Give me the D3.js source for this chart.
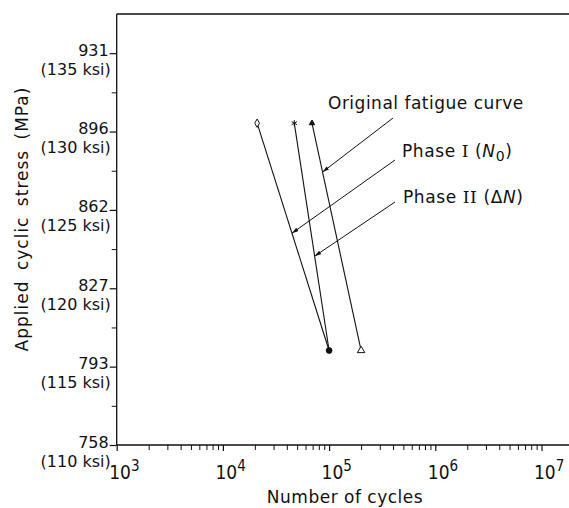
<!DOCTYPE html>
<html>
<head>
<meta charset="utf-8">
<script src="https://cdn.jsdelivr.net/npm/d3@7"></script>
<style>
  html, body { margin: 0; padding: 0; background: #fff; }
  svg { display: block; }
  text { font-family: "DejaVu Sans", sans-serif; fill: #111; }
</style>
</head>
<body>
<svg id="chart" width="569" height="508"></svg>
<script>
// Conversion used for the dual stress labels
const KSI_TO_MPA = 6.894757;

// Stress axis ticks (ksi) and their MPa labels
const stressTicksKsi = [110, 115, 120, 125, 130, 135];
const stressTickMPa = ["758", "793", "827", "862", "896", "931"];
const stressMinorKsi = [112.5, 117.5, 122.5, 127.5, 132.5];

// Cycle axis decades
const cycleDecades = [1e3, 1e4, 1e5, 1e6, 1e7];
const decadeExponents = ["3", "4", "5", "6", "7"];

// S-N data: [cycles, stress in MPa]
const seriesNames = ["Original fatigue curve", "Phase I", "Phase II"];
const originalCycles = [6.9e4, 2.0e5];
const originalStress = [900, 800];
const phaseICycles = [2.1e4, 1.0e5];
const phaseIStress = [900, 800];
const phaseIICycles = [4.7e4, 1.0e5];
const phaseIIStress = [900, 800];

// Stress level (MPa) where each leader line meets its curve
const leaderStress = [878.5, 851.6, 841.5];

const svg = d3.select("#chart");

const plotLeft = 116.7, plotTop = 14, plotBottom = 445, xEnd = 569;
const x = d3.scaleLog().domain([1e3, 1e7]).range([plotLeft, 541.5]);
const y = d3.scaleLinear()
  .domain([110 * KSI_TO_MPA, 137.5 * KSI_TO_MPA])
  .range([plotBottom, plotTop]);

// Frame: left axis line, top line, bottom axis line
const frame = svg.append("g").attr("stroke", "#111").attr("stroke-width", 1.3).attr("fill", "none");
frame.append("line").attr("x1", plotLeft).attr("x2", plotLeft).attr("y1", plotTop).attr("y2", plotBottom);
frame.append("line").attr("x1", plotLeft).attr("x2", xEnd).attr("y1", plotTop).attr("y2", plotTop);
frame.append("line").attr("x1", plotLeft).attr("x2", xEnd).attr("y1", plotBottom).attr("y2", plotBottom);

// X axis: minor ticks at 2..9 of each decade, major at decades
const minorCycles = [];
for (let d = 3; d < 7; d++) for (let m = 2; m <= 9; m++) minorCycles.push(m * Math.pow(10, d));

const xMinor = d3.axisBottom(x).tickValues(minorCycles).tickSize(5).tickFormat("");
svg.append("g").attr("transform", `translate(0,${plotBottom})`).call(xMinor)
  .call(g => g.select(".domain").remove())
  .call(g => g.selectAll("line").attr("stroke", "#111").attr("stroke-width", 1));

const xMajor = d3.axisBottom(x).tickValues(cycleDecades).tickSize(6).tickFormat("");
const xg = svg.append("g").attr("transform", `translate(0,${plotBottom})`).call(xMajor)
  .call(g => g.select(".domain").remove())
  .call(g => g.selectAll("line").attr("stroke", "#111").attr("stroke-width", 1.2));

// Decade labels: "10" centred on the tick with the exponent raised to its right
xg.selectAll(".tick").each(function(d, i) {
  const t = d3.select(this).append("text")
    .attr("x", -8).attr("y", 34)
    .attr("text-anchor", "start")
    .style("font-family", "'DejaVu Sans Condensed', 'DejaVu Sans', sans-serif")
    .style("font-size", "19px");
  t.append("tspan").text("10");
  t.append("tspan").attr("dy", -8).style("font-size", "15px").text(decadeExponents[i]);
});

// Y axis: minor ticks, then labelled major ticks
const yMinor = d3.axisLeft(y).tickValues(stressMinorKsi.map(k => k * KSI_TO_MPA)).tickSize(5).tickFormat("");
svg.append("g").attr("transform", `translate(${plotLeft},0)`).call(yMinor)
  .call(g => g.select(".domain").remove())
  .call(g => g.selectAll("line").attr("stroke", "#111"));

const yMajor = d3.axisLeft(y).tickValues(stressTicksKsi.map(k => k * KSI_TO_MPA)).tickSize(7).tickFormat("");
const yg = svg.append("g").attr("transform", `translate(${plotLeft},0)`).call(yMajor)
  .call(g => g.select(".domain").remove())
  .call(g => g.selectAll("line").attr("stroke", "#111").attr("stroke-width", 1.2));

yg.selectAll(".tick").each(function(d, i) {
  const g = d3.select(this);
  g.append("text").attr("x", -8).attr("y", 2).attr("text-anchor", "end")
    .style("font-size", "16px").text(stressTickMPa[i]);
  g.append("text").attr("x", -6).attr("y", 21).attr("text-anchor", "end")
    .style("font-size", "16px").text(`(${stressTicksKsi[i]} ksi)`);
});

// Axis titles
svg.append("text")
  .attr("x", 345).attr("y", 503).attr("text-anchor", "middle")
  .style("font-size", "17px").style("letter-spacing", "0.5px")
  .text("Number of cycles");

svg.append("text")
  .attr("transform", "translate(28,219) rotate(-90)")
  .attr("text-anchor", "middle")
  .style("font-size", "17px").style("letter-spacing", "1px").style("word-spacing", "4px")
  .text("Applied cyclic stress (MPa)");

// Curves
const series = [
  { cycles: originalCycles, stress: originalStress },
  { cycles: phaseICycles, stress: phaseIStress },
  { cycles: phaseIICycles, stress: phaseIIStress }
];
const line = d3.line().x(d => x(d[0])).y(d => y(d[1]));
series.forEach(s => {
  svg.append("path")
    .datum(d3.zip(s.cycles, s.stress))
    .attr("d", line)
    .attr("fill", "none").attr("stroke", "#111").attr("stroke-width", 1.1);
});

// Point markers at each end of the curves
function marker(type, size, cx, cy, filled) {
  svg.append("path")
    .attr("d", d3.symbol().type(type).size(size)())
    .attr("transform", `translate(${cx},${cy})`)
    .attr("fill", filled ? "#111" : "#fff")
    .attr("stroke", "#111").attr("stroke-width", 1);
}
marker(d3.symbolTriangle, 13, x(originalCycles[0]), y(originalStress[0]), true);
marker(d3.symbolTriangle, 24, x(originalCycles[1]), y(originalStress[1]), false);
marker(d3.symbolDiamond, 20, x(phaseICycles[0]), y(phaseIStress[0]), false);
marker(d3.symbolCircle, 26, x(phaseICycles[1]), y(phaseIStress[1]), true);
marker(d3.symbolAsterisk, 26, x(phaseIICycles[0]), y(phaseIIStress[0]), true);

// Leader lines from each label down to its curve
function curveX(s, stress) {
  const t = (stress - s.stress[0]) / (s.stress[1] - s.stress[0]);
  const lx = Math.log10(s.cycles[0]) + t * (Math.log10(s.cycles[1]) - Math.log10(s.cycles[0]));
  return x(Math.pow(10, lx));
}
svg.append("defs").append("marker")
  .attr("id", "tip").attr("viewBox", "0 0 10 6").attr("refX", 10).attr("refY", 3)
  .attr("markerWidth", 7).attr("markerHeight", 4).attr("orient", "auto")
  .append("path").attr("d", "M0,0 L10,3 L0,6 Z").attr("fill", "#111");

const leaderStarts = [[393, 118], [395, 160], [395, 202]];
series.forEach((s, i) => {
  svg.append("line")
    .attr("x1", leaderStarts[i][0]).attr("y1", leaderStarts[i][1])
    .attr("x2", curveX(s, leaderStress[i])).attr("y2", y(leaderStress[i]))
    .attr("stroke", "#111").attr("stroke-width", 1)
    .attr("marker-end", "url(#tip)");
});

// Labels
svg.append("text").attr("x", 328).attr("y", 109)
  .style("font-size", "17px").style("letter-spacing", "0.5px")
  .text(seriesNames[0]);

const l1 = svg.append("text").attr("x", 402).attr("y", 157)
  .style("font-size", "17px").style("letter-spacing", "0.6px");
l1.append("tspan").text("Phase ");
l1.append("tspan").style("font-family", "'DejaVu Serif', serif").text("I");
l1.append("tspan").text(" (");
l1.append("tspan").style("font-style", "italic").text("N");
l1.append("tspan").attr("dy", 4).style("font-size", "14px").text("0");
l1.append("tspan").attr("dy", -4).text(")");

const l2 = svg.append("text").attr("x", 403).attr("y", 203)
  .style("font-size", "17px").style("letter-spacing", "0.6px");
l2.append("tspan").text("Phase ");
l2.append("tspan").style("font-family", "'DejaVu Serif', serif").text("II");
l2.append("tspan").text(" (\u0394");
l2.append("tspan").style("font-style", "italic").text("N");
l2.append("tspan").text(")");
</script>
</body>
</html>
